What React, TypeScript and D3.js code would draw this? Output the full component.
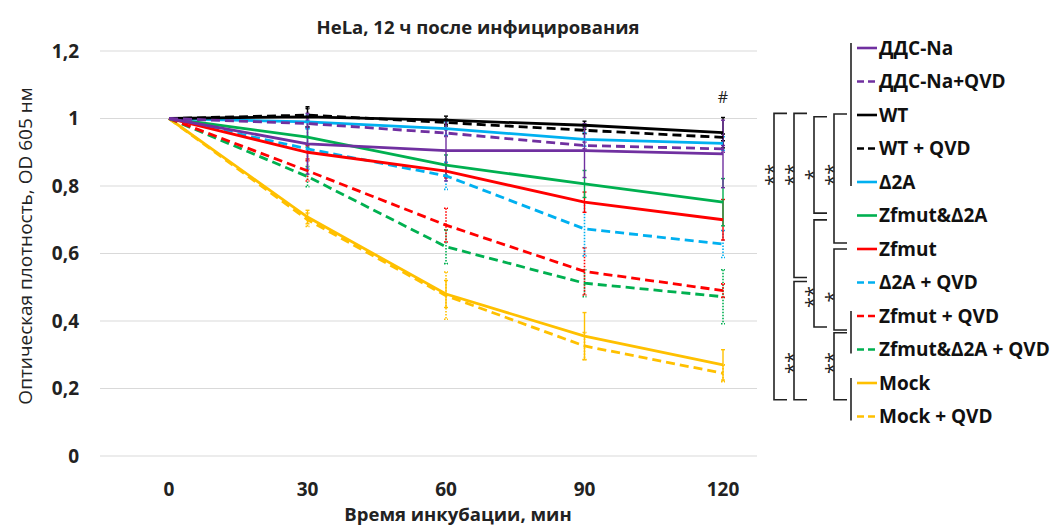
import React, { useEffect, useRef } from 'react';
import * as d3 from 'd3';

// time points, min
const times = [0, 30, 60, 90, 120];
const yTicks = [0, 0.2, 0.4, 0.6, 0.8, 1, 1.2];

// optical density values
const ddsNa = [1, 0.925, 0.905, 0.905, 0.895];
const ddsNaQvd = [1, 0.985, 0.957, 0.92, 0.91];
const wt = [1, 1.005, 0.995, 0.98, 0.958];
const wtQvd = [1, 1.01, 0.988, 0.965, 0.944];
const d2a = [1, 0.99, 0.97, 0.938, 0.926];
const zfD2a = [1, 0.945, 0.862, 0.806, 0.752];
const zfmut = [1, 0.9, 0.844, 0.752, 0.7];
const d2aQvd = [1, 0.91, 0.83, 0.673, 0.628];
const zfmutQvd = [1, 0.845, 0.684, 0.547, 0.49];
const zfD2aQvd = [1, 0.828, 0.62, 0.512, 0.472];
const mock = [1, 0.708, 0.48, 0.355, 0.27];
const mockQvd = [1, 0.7, 0.475, 0.326, 0.245];

// error bar half-widths
const ddsNaErr = [0, 0.09, 0.09, 0.08, 0.1];
const ddsNaQvdErr = [0, 0.01, 0.01, 0.01, 0.01];
const wtErr = [0, 0.03, 0.012, 0.012, 0.045];
const wtQvdErr = [0, 0.02, 0.01, 0.01, 0.01];
const d2aErr = [0, 0.02, 0.02, 0.02, 0.02];
const zfD2aErr = [0, 0.03, 0.03, 0.04, 0.07];
const zfmutErr = [0, 0.02, 0.02, 0.03, 0.06];
const d2aQvdErr = [0, 0.06, 0.04, 0.08, 0.04];
const zfmutQvdErr = [0, 0.03, 0.05, 0.07, 0.02];
const zfD2aQvdErr = [0, 0.03, 0.05, 0.04, 0.08];
const mockErr = [0, 0.02, 0.04, 0.07, 0.045];
const mockQvdErr = [0, 0.02, 0.07, 0.04, 0.025];

const seriesNames = [
  'ДДС-Na', 'ДДС-Na+QVD', 'WT', 'WT + QVD', 'Δ2A', 'Zfmut&Δ2A',
  'Zfmut', 'Δ2A + QVD', 'Zfmut + QVD', 'Zfmut&Δ2A + QVD', 'Mock', 'Mock + QVD',
];
const seriesColors = [
  '#7030A0', '#7030A0', '#000000', '#000000', '#00B0F0', '#00B050',
  '#FF0000', '#00B0F0', '#FF0000', '#00B050', '#FFC000', '#FFC000',
];
const seriesDashed = [false, true, false, true, false, false, false, true, true, true, false, true];
const seriesValues = [ddsNa, ddsNaQvd, wt, wtQvd, d2a, zfD2a, zfmut, d2aQvd, zfmutQvd, zfD2aQvd, mock, mockQvd];
const seriesErrors = [ddsNaErr, ddsNaQvdErr, wtErr, wtQvdErr, d2aErr, zfD2aErr, zfmutErr, d2aQvdErr, zfmutQvdErr, zfD2aQvdErr, mockErr, mockQvdErr];

// significance brackets, in legend row units
const groups = [[0, 4], [8, 9], [10, 11]];
const brackets = [
  { from: 1.95, to: 10.5, level: 3, label: '**', at: 3.78 },
  { from: 1.95, to: 6.85, level: 2, label: '**', at: 3.78 },
  { from: 2.05, to: 4.93, level: 1, label: '*', at: 3.78 },
  { from: 1.97, to: 5.82, level: 0, label: '**', at: 3.78 },
  { from: 5.13, to: 8.33, level: 1, label: '**', at: 7.43 },
  { from: 6.0, to: 8.42, level: 0, label: '*', at: 7.43 },
  { from: 6.97, to: 10.5, level: 2, label: '**', at: 9.4 },
  { from: 8.5, to: 10.5, level: 0, label: '**', at: 9.4 },
];

const FONT = '"Open Sans", "DejaVu Sans", sans-serif';
const FS = 19;

export default function App() {
  const svgRef = useRef<SVGSVGElement>(null);

  useEffect(() => {
    if (!svgRef.current) return;
    const svg = d3.select(svgRef.current);
    svg.selectAll('*').remove();
    svg.attr('font-family', FONT);

    const x = d3.scaleLinear().domain([0, 120]).range([169, 723]);
    const y = d3.scaleLinear().domain([0, 1.2]).range([456, 51]);
    const fmt = d3.formatLocale({ decimal: ',', thousands: ' ', grouping: [3], currency: ['', ''] }).format('.1~f');

    // gridlines
    svg.append('g')
      .selectAll('line')
      .data(yTicks)
      .join('line')
      .attr('x1', 100)
      .attr('x2', 757)
      .attr('y1', d => y(d))
      .attr('y2', d => y(d))
      .attr('stroke', '#d9d9d9')
      .attr('stroke-width', 1.2);

    // y tick labels
    svg.append('g')
      .selectAll('text')
      .data(yTicks)
      .join('text')
      .attr('x', 79)
      .attr('y', d => y(d))
      .attr('dy', '0.36em')
      .attr('text-anchor', 'end')
      .attr('font-size', FS)
      .attr('font-weight', 'bold')
      .attr('fill', '#222')
      .text(d => fmt(d));

    // x tick labels
    svg.append('g')
      .selectAll('text')
      .data(times)
      .join('text')
      .attr('x', d => x(d))
      .attr('y', 496)
      .attr('text-anchor', 'middle')
      .attr('font-size', FS)
      .attr('font-weight', 'bold')
      .attr('fill', '#222')
      .text(d => d);

    svg.append('text')
      .attr('x', 458)
      .attr('y', 521)
      .attr('text-anchor', 'middle')
      .attr('font-size', 18.5)
      .attr('font-weight', 'bold')
      .attr('fill', '#222')
      .text('Время инкубации, мин');

    svg.append('text')
      .attr('transform', 'translate(25,246) rotate(-90)')
      .attr('dy', '0.35em')
      .attr('text-anchor', 'middle')
      .attr('font-size', FS)
      .attr('fill', '#222')
      .text('Оптическая плотность, OD 605 нм');

    svg.append('text')
      .attr('x', 478)
      .attr('y', 34)
      .attr('text-anchor', 'middle')
      .attr('font-size', 18.5)
      .attr('font-weight', 'bold')
      .attr('fill', '#222')
      .text('HeLa, 12 ч после инфицирования');

    const line = d3.line<number>()
      .x((_, i) => x(times[i]))
      .y(d => y(d));

    const order = d3.range(seriesNames.length).reverse();

    // error bars
    order.forEach(s => {
      const g = svg.append('g')
        .attr('stroke', seriesColors[s])
        .attr('stroke-width', seriesDashed[s] ? 1.6 : 1.4)
        .attr('stroke-dasharray', seriesDashed[s] ? '1.5,1.5' : null);
      times.forEach((t, i) => {
        const e = seriesErrors[s][i];
        if (!e) return;
        const v = seriesValues[s][i];
        g.append('line')
          .attr('x1', x(t)).attr('x2', x(t))
          .attr('y1', y(v + e)).attr('y2', y(v - e));
        [v + e, v - e].forEach(c => {
          g.append('line')
            .attr('x1', x(t) - 2).attr('x2', x(t) + 2)
            .attr('y1', y(c)).attr('y2', y(c))
            .attr('stroke-dasharray', null);
        });
      });
    });

    // series lines
    order.forEach(s => {
      svg.append('path')
        .datum(seriesValues[s])
        .attr('fill', 'none')
        .attr('stroke', seriesColors[s])
        .attr('stroke-width', 2.8)
        .attr('stroke-dasharray', seriesDashed[s] ? '9,5' : null)
        .attr('d', line);
    });

    svg.append('text')
      .attr('x', x(120))
      .attr('y', y(wt[4] + wtErr[4]) - 14)
      .attr('text-anchor', 'middle')
      .attr('font-size', 16)
      .attr('fill', '#222')
      .text('#');

    // legend
    const ly = d3.scaleLinear().domain([0, 11]).range([48, 48 + 11 * 33.5]);
    const legend = svg.append('g');
    seriesNames.forEach((name, i) => {
      legend.append('line')
        .attr('x1', 857).attr('x2', 877)
        .attr('y1', ly(i)).attr('y2', ly(i))
        .attr('stroke', seriesColors[i])
        .attr('stroke-width', 2.6)
        .attr('stroke-dasharray', seriesDashed[i] ? '7,4' : null);
      legend.append('text')
        .attr('x', 879)
        .attr('y', ly(i))
        .attr('dy', '0.36em')
        .attr('font-size', FS)
        .attr('font-weight', 'bold')
        .attr('fill', '#111')
        .text(name);
    });

    // group bars beside the legend
    legend.selectAll('.grp')
      .data(groups)
      .join('line')
      .attr('x1', 851).attr('x2', 851)
      .attr('y1', d => ly(d[0]) - 5)
      .attr('y2', d => ly(d[1]) + 4)
      .attr('stroke', '#222')
      .attr('stroke-width', 1.6);

    // significance brackets
    const bx = d3.scaleLinear().domain([0, 3]).range([834, 774]);
    brackets.forEach(b => {
      const x0 = bx(b.level);
      const y0 = ly(b.from);
      const y1 = ly(b.to);
      svg.append('path')
        .attr('d', `M${x0 + 13},${y0}H${x0}V${y1}H${x0 + 13}`)
        .attr('fill', 'none')
        .attr('stroke', '#222')
        .attr('stroke-width', 1.6);
      svg.append('text')
        .attr('transform', `translate(${x0 - 9},${ly(b.at)}) rotate(-90)`)
        .attr('text-anchor', 'middle')
        .attr('dy', '0.75em')
        .attr('font-size', 20)
        .attr('fill', '#222')
        .text(b.label);
    });
  }, []);

  return (
    <div style={{ position: 'absolute', left: 0, top: 0 }}>
      <svg ref={svgRef} width={1060} height={529} style={{ display: 'block', background: '#fff' }}></svg>
    </div>
  );
}
